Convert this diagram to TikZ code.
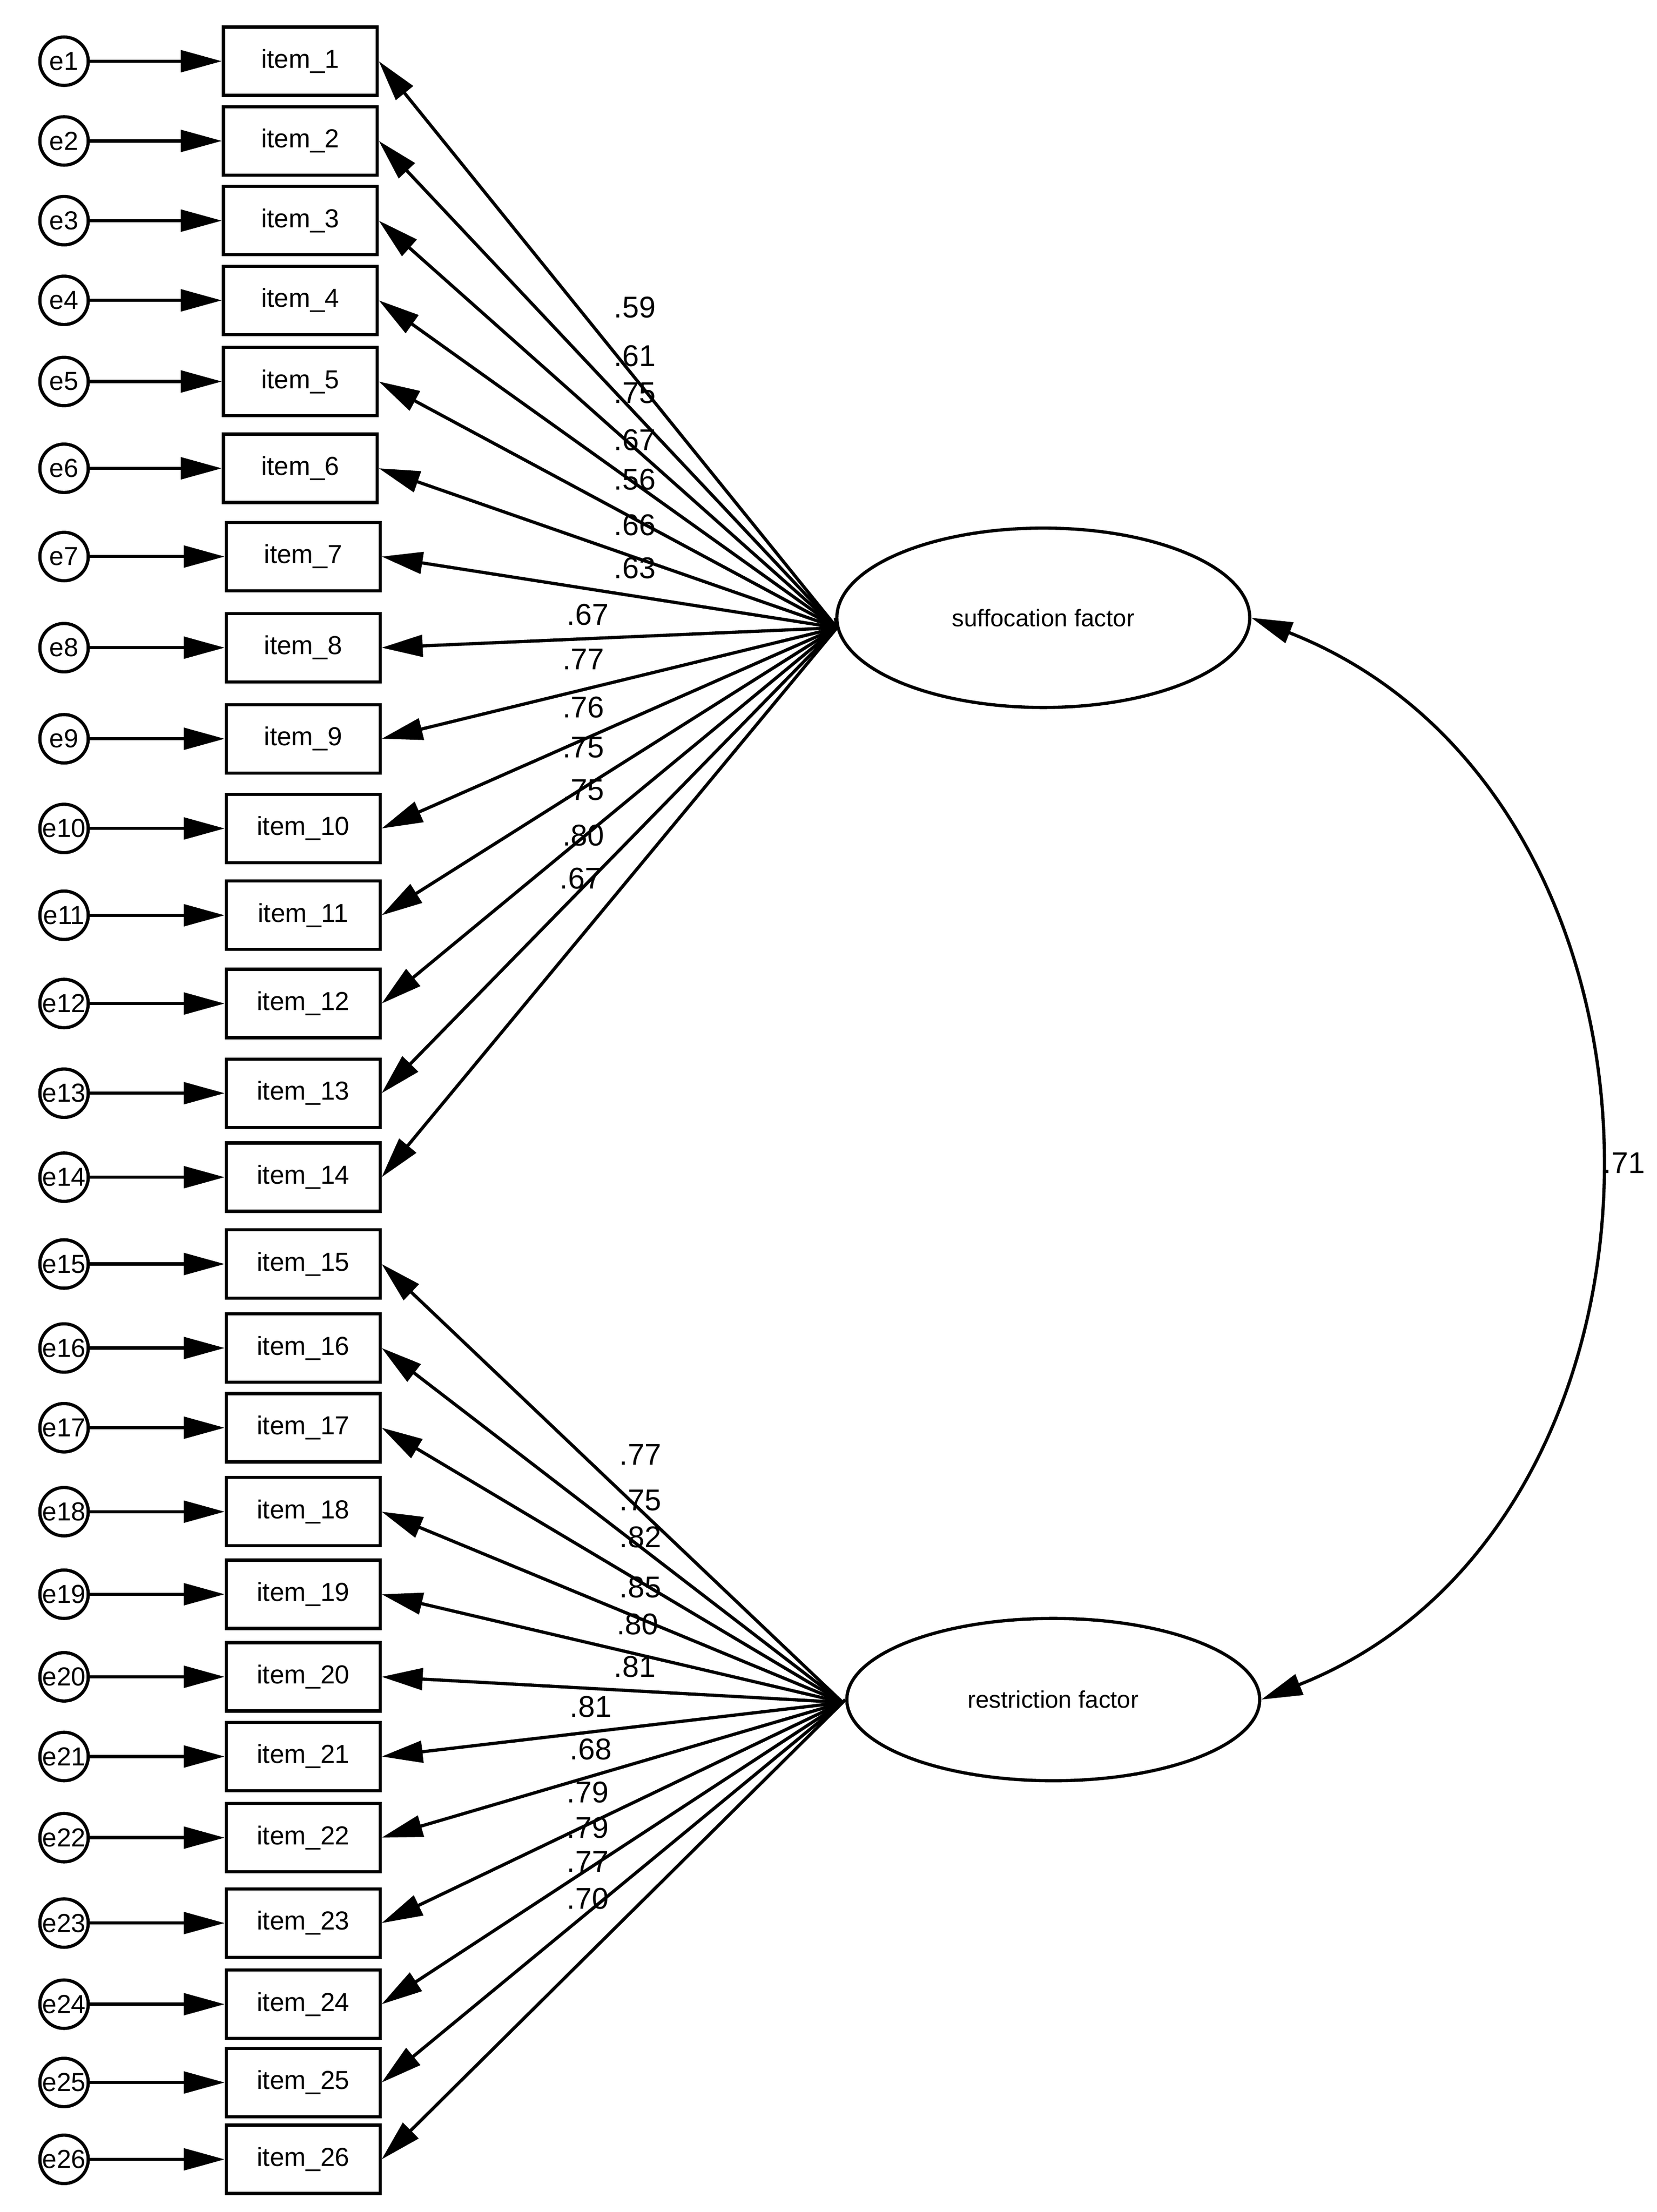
\documentclass[tikz,border=0pt]{standalone}
\usepackage{fontspec}
\setmainfont{Liberation Sans}
\usetikzlibrary{shapes.geometric,arrows.meta}
\begin{document}
\begin{tikzpicture}[x=0.025cm,y=-0.025cm,
  ln/.style={line width=1.6pt,-{Triangle[length=0.72cm,width=0.38cm]}},
  item/.style={draw,line width=1.6pt,minimum width=2.7cm,minimum height=1.2cm,font=\fontsize{13}{13}\selectfont},
  err/.style={draw,circle,line width=1.6pt,minimum size=0.85cm,inner sep=0pt,font=\fontsize{13}{13}\selectfont},
  fac/.style={draw,ellipse,line width=1.6pt,minimum width=7.25cm,font=\fontsize{12}{12}\selectfont},
  lab/.style={font=\fontsize{15}{15}\selectfont}]
\useasboundingbox (0,0) rectangle (1164,1554);
\foreach \i/\y/\x in {1/43/211,2/99/211,3/155/211,4/211/211,5/268/211,6/329/211,7/391/213,8/455/213,9/519/213,10/582/213,11/643/213,12/705/213,13/768/213,14/827/213,15/888/213,16/947/213,17/1003/213,18/1062/213,19/1120/213,20/1178/213,21/1234/213,22/1291/213,23/1351/213,24/1408/213,25/1463/213,26/1517/213}{
  \node[item] (i\i) at (\x,\y) {item\_\i};
  \node[err] (e\i) at (45,\y) {e\i};
  \draw[ln] (e\i) -- (i\i.west);
}
\node[fac,minimum height=3.15cm] (sf) at (733,434) {suffocation factor};
\node[fac,minimum height=2.85cm] (rf) at (740,1194) {restriction factor};
\coordinate (S) at (588,441);
\coordinate (R) at (592,1196);
\foreach \i in {1,...,14}{\draw[ln] (S) -- (i\i.east);}
\foreach \i in {15,...,26}{\draw[ln] (R) -- (i\i.east);}
\draw[line width=1.6pt] (S) -- (sf.west);
\draw[line width=1.6pt] (R) -- (rf.west);
\foreach \t/\x/\y in {.59/446/216,.61/446/250,.75/446/276,.67/446/309,.56/446/337,.66/446/369,.63/446/399,.67/413/432,.77/410/463,.76/410/497,.75/410/525,.75/410/555,.80/410/587,.67/408/617,
 .77/450/1022,.75/450/1054,.82/450/1080,.85/450/1115,.80/448/1141,.81/446/1171,.81/415/1199,.68/415/1229,.79/413/1259,.79/413/1284,.77/413/1308,.70/413/1334}{
  \node[lab] at (\x,\y) {\t};}
\draw[line width=1.6pt,{Triangle[length=0.72cm,width=0.38cm]}-{Triangle[length=0.72cm,width=0.38cm]}] (sf.east) .. controls (1200,560) and (1200,1070) .. (rf.east);
\node[lab] at (1141,817) {.71};
\end{tikzpicture}
\end{document}
